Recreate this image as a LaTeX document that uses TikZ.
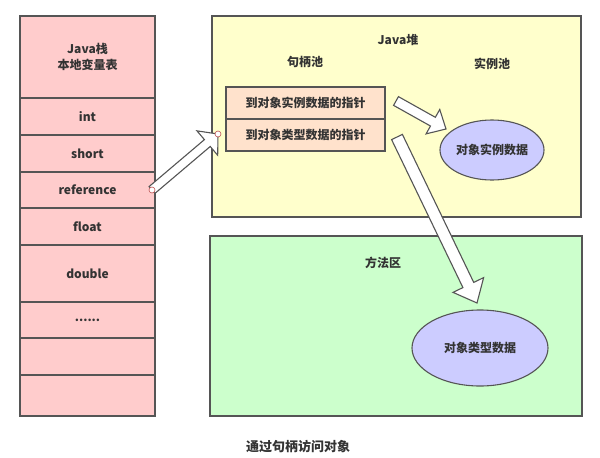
\documentclass[tikz,border=0pt]{standalone}
\usepackage{fontspec}
\setmainfont{Noto Sans CJK SC}
\usepackage{tikz}
\usetikzlibrary{positioning}
\usetikzlibrary{calc,shapes.geometric}
\definecolor{jv-text}{HTML}{333333}
\definecolor{jv-line}{HTML}{555555}
\definecolor{jv-stack}{HTML}{FFCCCC}
\definecolor{jv-heap}{HTML}{FFFFCC}
\definecolor{jv-method}{HTML}{CCFFCC}
\definecolor{jv-ptr}{HTML}{FFE2CC}
\definecolor{jv-obj}{HTML}{CCCCFF}
\definecolor{jv-handle}{HTML}{C05050}
\tikzset{basic/.style={draw=jv-line,line width=1.1pt,inner sep=0pt,outer sep=0pt,text=jv-text,align=center}}

\begin{document}
\begin{tikzpicture}[
    x=1pt, y=-1pt,                 % pixel grid of the sketch
    font=\fontsize{12}{16}\selectfont\bfseries
  ]

  % Styles for the boxes and the fat arrows
  \tikzset{
    cell/.style={basic, fill=jv-stack, minimum width=135pt},
    area/.style={basic, minimum width=369pt, anchor=north west},
    ptr/.style={basic, fill=jv-ptr, minimum width=159pt, minimum height=32pt},
    obj/.style={basic, ellipse, fill=jv-obj},
    label/.style={text=jv-text},
    handle/.style={circle, draw=jv-handle, fill=white, line width=0.6pt, inner sep=0pt, minimum size=6pt},
    blockarrow/.style n args={3}{draw=jv-line, fill=white, line width=1.1pt, line join=miter,
      to path={
        ($(\tikztostart)!#1!90:(\tikztotarget)$)
        -- ($(\tikztotarget)!#3!(\tikztostart)!#1!90:(\tikztotarget)$)
        -- ($(\tikztotarget)!#3!(\tikztostart)!#2!90:(\tikztotarget)$)
        -- (\tikztotarget)
        -- ($(\tikztotarget)!#3!(\tikztostart)!#2!-90:(\tikztotarget)$)
        -- ($(\tikztotarget)!#3!(\tikztostart)!#1!-90:(\tikztotarget)$)
        -- ($(\tikztostart)!#1!-90:(\tikztotarget)$) -- cycle}}
  }

  \useasboundingbox (0,0) rectangle (600,458);

  % Java stack, local variable table
  \node (stackhdr) [cell, minimum height=82pt, anchor=north west] at (20,16) {Java栈\\本地变量表};
  \node (intcell) [cell, minimum height=37pt, below=0pt of stackhdr] {int};
  \node (shortcell) [cell, minimum height=37pt, below=0pt of intcell] {short};
  \node (refcell) [cell, minimum height=36pt, below=0pt of shortcell] {reference};
  \node (floatcell) [cell, minimum height=37pt, below=0pt of refcell] {float};
  \node (doublecell) [cell, minimum height=57pt, below=0pt of floatcell] {double};
  \node (dotscell) [cell, minimum height=36pt, below=0pt of doublecell] {......};
  \node (empty1) [cell, minimum height=37pt, below=0pt of dotscell] {};
  \node (empty2) [cell, minimum height=41pt, below=0pt of empty1] {};

  % Java heap
  \node (heap) [area, fill=jv-heap, minimum height=201pt] at (212,16) {};
  \node (heaplbl) [label] at (398,40) {Java堆};
  \node (handlelbl) [label] at (305,62) {句柄池};
  \node (instlbl) [label] at (492,64) {实例池};

  % Handle pool entries
  \node (ptrinst) [ptr, anchor=north west] at (226,87) {到对象实例数据的指针};
  \node (ptrtype) [ptr, below=0pt of ptrinst] {到对象类型数据的指针};

  % Instance data
  \node (instdata) [obj, minimum width=104pt, minimum height=60pt] at (492,150) {对象实例数据};

  % Method area
  \node (method) [area, fill=jv-method, minimum width=372pt, minimum height=180pt] at (210,236) {};
  \node (methodlbl) [label] at (383,263) {方法区};
  \node (typedata) [obj, minimum width=136pt, minimum height=76pt] at (480,348) {对象类型数据};

  % Arrow ends
  \coordinate (refend) at ([xshift=-3pt]refcell.east);
  \coordinate (ptrend) at (218,134);
  \coordinate (insttail) at (396,101);
  \coordinate (insthead) at (446,129);
  \coordinate (typetail) at (397,137);
  \coordinate (typehead) at (477,303);

  % Fat arrows
  \draw[blockarrow={4.5pt}{16pt}{14pt}] (refend) to (ptrend);
  \draw[blockarrow={5pt}{14pt}{15pt}] (insttail) to (insthead);
  \draw[blockarrow={6pt}{17pt}{20pt}] (typetail) to (typehead);

  \node (handleA) [handle] at (refend) {};
  \node (handleB) [handle] at (ptrend) {};

  % Caption
  \node (caption) [label, font=\fontsize{13}{16}\selectfont\bfseries] at (298,447) {通过句柄访问对象};

\end{tikzpicture}
\end{document}
